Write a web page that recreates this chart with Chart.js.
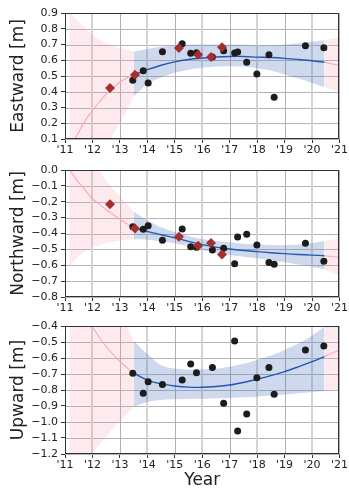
<!DOCTYPE html>
<html>
<head>
<meta charset="utf-8">
<script src="https://cdn.jsdelivr.net/npm/chart.js@4.4.0/dist/chart.umd.min.js"></script>
<style>
  html, body { margin: 0; padding: 0; background: #fff; }
  #wrap { position: relative; width: 349px; height: 491px; }
  .panel { position: absolute; left: 0; width: 349px; }
  canvas { display: block; }
</style>
</head>
<body>
<div id="wrap">
  <div class="panel" style="top:0px"><canvas id="east" width="349" height="160"></canvas></div>
  <div class="panel" style="top:160px"><canvas id="north" width="349" height="155"></canvas></div>
  <div class="panel" style="top:315px"><canvas id="up" width="349" height="176"></canvas></div>
</div>
<script>
// station observations (black dots) and campaign points (red diamonds)
var dotYears = [13.47, 13.85, 14.03, 14.55, 15.27, 15.58, 15.79, 16.37, 16.78, 17.18, 17.29, 17.62, 17.99, 18.43, 18.62, 19.76, 20.43];
var eastDots  = [0.473, 0.534, 0.456, 0.654, 0.705, 0.644, 0.648, 0.62, 0.66, 0.646, 0.652, 0.587, 0.513, 0.635, 0.365, 0.692, 0.68];
var northDots = [-0.357, -0.374, -0.351, -0.443, -0.372, -0.483, -0.487, -0.504, -0.493, -0.59, -0.422, -0.405, -0.472, -0.582, -0.594, -0.462, -0.575];
var upDots    = [-0.696, -0.821, -0.748, -0.765, -0.7375, -0.6375, -0.692, -0.66, -0.883, -0.494, -1.056, -0.95, -0.723, -0.66, -0.827, -0.55, -0.525];

var diamondYears  = [12.64, 13.55, 15.15, 15.85, 16.32, 16.72];
var eastDiamonds  = [0.424, 0.508, 0.678, 0.635, 0.62, 0.682];
var northDiamonds = [-0.216, -0.368, -0.42, -0.477, -0.46, -0.533];

// fitted trend with confidence band over the observed span
var fitYears = [13.5, 14, 14.5, 15, 15.5, 16, 16.5, 17, 17.5, 18, 18.5, 19, 19.5, 20, 20.45];
var eastFit = [0.508, 0.54, 0.568, 0.59, 0.605, 0.614, 0.621, 0.624, 0.624, 0.62, 0.617, 0.612, 0.605, 0.597, 0.587];
var eastHi  = [0.655, 0.672, 0.685, 0.693, 0.698, 0.70, 0.70, 0.70, 0.698, 0.695, 0.695, 0.70, 0.708, 0.718, 0.727];
var eastLo  = [0.37, 0.45, 0.49, 0.52, 0.54, 0.552, 0.56, 0.562, 0.56, 0.55, 0.535, 0.51, 0.485, 0.455, 0.43];
var northFit = [-0.365, -0.387, -0.408, -0.427, -0.45, -0.47, -0.486, -0.498, -0.507, -0.514, -0.521, -0.527, -0.532, -0.536, -0.54];
var northHi  = [-0.262, -0.318, -0.36, -0.389, -0.415, -0.435, -0.447, -0.456, -0.464, -0.47, -0.473, -0.474, -0.47, -0.46, -0.447];
var northLo  = [-0.437, -0.44, -0.45, -0.462, -0.482, -0.504, -0.52, -0.535, -0.546, -0.556, -0.568, -0.581, -0.595, -0.609, -0.626];
var upFit = [-0.695, -0.738, -0.762, -0.775, -0.782, -0.783, -0.778, -0.769, -0.753, -0.733, -0.71, -0.685, -0.655, -0.623, -0.592];
var upHi  = [-0.492, -0.575, -0.645, -0.665, -0.672, -0.671, -0.665, -0.654, -0.636, -0.6125, -0.585, -0.55, -0.51, -0.46, -0.404];
var upLo  = [-0.905, -0.875, -0.862, -0.858, -0.856, -0.855, -0.853, -0.85, -0.846, -0.842, -0.835, -0.828, -0.82, -0.812, -0.806];

// extrapolated trend (pink) before and after the observed span
var extLeftYears = [11.16, 11.37, 11.5, 11.75, 12, 12.25, 12.5, 12.75, 13, 13.25, 13.5];
var eastExtL   = [0.02, 0.10, 0.145, 0.22, 0.28, 0.335, 0.385, 0.425, 0.46, 0.487, 0.508];
var eastExtLHi = [0.91, 0.865, 0.845, 0.80, 0.762, 0.733, 0.71, 0.692, 0.678, 0.666, 0.655];
var eastExtLLo = [-0.6, -0.5, -0.44, -0.33, -0.22, -0.12, 0.04, 0.13, 0.20, 0.28, 0.37];
var northExtL   = [0.005, -0.05, -0.08, -0.13, -0.18, -0.215, -0.25, -0.28, -0.31, -0.338, -0.365];
var northExtLHi = [0.3, 0.25, 0.2, 0.12, 0.05, 0.0, -0.07, -0.12, -0.165, -0.215, -0.262];
var northExtLLo = [-0.61, -0.565, -0.54, -0.51, -0.49, -0.472, -0.46, -0.452, -0.445, -0.44, -0.437];
var upExtL   = [-0.1, -0.19, -0.24, -0.33, -0.405, -0.47, -0.528, -0.578, -0.622, -0.66, -0.695];
var upExtLHi = [0.5, 0.4, 0.35, 0.25, 0.15, 0.05, -0.05, -0.17, -0.29, -0.39, -0.492];
var upExtLLo = [-1.8, -1.6, -1.5, -1.33, -1.2, -1.14, -1.09, -1.04, -0.998, -0.952, -0.905];

var extRightYears = [20.45, 20.7, 21.0];
var eastExtR   = [0.587, 0.578, 0.568];
var eastExtRHi = [0.727, 0.736, 0.745];
var eastExtRLo = [0.43, 0.415, 0.40];
var northExtR   = [-0.54, -0.545, -0.55];
var northExtRHi = [-0.447, -0.44, -0.433];
var northExtRLo = [-0.626, -0.643, -0.661];
var upExtR   = [-0.592, -0.572, -0.55];
var upExtRHi = [-0.404, -0.38, -0.355];
var upExtRLo = [-0.806, -0.803, -0.80];

var FONT = 'DejaVu Sans';
var BLUE = '#2456b3';
var BLUE_BAND = 'rgba(76, 114, 190, 0.27)';
var PINK = '#f7a9b8';
var PINK_BAND = 'rgba(245, 150, 172, 0.2)';

function pts(xs, ys) {
  return xs.map(function (x, i) { return { x: x, y: ys[i] }; });
}

function fmt(v) {
  return v.toFixed(1).replace('-', '\u2212');
}

// grid under the data, frame round the plot area
var framePlugin = {
  id: 'frame',
  beforeDatasetsDraw: function (chart) {
    var a = chart.chartArea, c = chart.ctx;
    var xs = chart.scales.x, ys = chart.scales.y;
    c.save();
    ys.ticks.forEach(function (t) {
      var y = Math.round(ys.getPixelForValue(t.value)) + 0.5;
      c.strokeStyle = '#b5b5b5';
      c.lineWidth = 1;
      c.beginPath(); c.moveTo(a.left, y); c.lineTo(a.right, y); c.stroke();
    });
    xs.ticks.forEach(function (t) {
      var even = t.value % 2 === 0;
      var x = Math.round(xs.getPixelForValue(t.value)) + (even ? 0 : 0.5);
      c.strokeStyle = even ? '#d4d4d4' : '#b0b0b0';
      c.lineWidth = even ? 2 : 1;
      c.beginPath(); c.moveTo(x, a.top); c.lineTo(x, a.bottom); c.stroke();
    });
    c.restore();
  },
  afterDatasetsDraw: function (chart) {
    var a = chart.chartArea, c = chart.ctx;
    c.save();
    c.strokeStyle = '#333';
    c.lineWidth = 1;
    c.strokeRect(Math.round(a.left) + 0.5, Math.round(a.top) + 0.5, Math.round(a.right - a.left) - 1, Math.round(a.bottom - a.top) - 1);
    c.restore();
  }
};

function band(hi, lo, xs, color, order) {
  return [
    { data: pts(xs, hi), borderWidth: 0, pointRadius: 0, tension: 0.35, fill: '+1', backgroundColor: color, order: order },
    { data: pts(xs, lo), borderWidth: 0, pointRadius: 0, tension: 0.35, fill: false, order: order }
  ];
}

function makePanel(id, p) {
  var ds = [];
  if (p.diamonds) {
    ds.push({ data: pts(diamondYears, p.diamonds), showLine: false, pointStyle: 'rectRot', pointRadius: 5,
      backgroundColor: '#a3302c', borderColor: '#a3302c', borderWidth: 0, order: 0 });
  }
  ds.push({ data: pts(dotYears, p.dots), showLine: false, pointStyle: 'circle', pointRadius: 3.5,
    backgroundColor: '#1c1c1c', borderColor: '#1c1c1c', borderWidth: 0, order: 1 });
  ds.push({ data: pts(fitYears, p.fit), borderColor: BLUE, borderWidth: 1.4, pointRadius: 0, tension: 0.35, fill: false, order: 2 });
  ds.push({ data: pts(extLeftYears, p.extL), borderColor: PINK, borderWidth: 1.1, pointRadius: 0, tension: 0.35, fill: false, order: 3 });
  ds.push({ data: pts(extRightYears, p.extR), borderColor: PINK, borderWidth: 1.1, pointRadius: 0, tension: 0.35, fill: false, order: 3 });
  ds = ds.concat(band(p.hi, p.lo, fitYears, BLUE_BAND, 4));
  ds = ds.concat(band(p.extLHi, p.extLLo, extLeftYears, PINK_BAND, 5));
  ds = ds.concat(band(p.extRHi, p.extRLo, extRightYears, PINK_BAND, 5));

  return new Chart(document.getElementById(id), {
    type: 'line',
    data: { datasets: ds },
    options: {
      responsive: false,
      animation: false,
      layout: { padding: { left: 0, right: 9, top: p.top, bottom: 0 } },
      plugins: { legend: { display: false }, tooltip: { enabled: false } },
      scales: {
        x: {
          type: 'linear', min: 11, max: 21,
          ticks: { stepSize: 1, autoSkip: false, maxRotation: 0, padding: 1, color: '#222', font: { family: FONT, size: 11 },
            callback: function (v) { return "'" + v; } },
          grid: { drawOnChartArea: false, color: '#333', tickColor: '#333', tickLength: 4, tickWidth: 1 },
          border: { display: true, color: '#333', width: 1 },
          title: { display: !!p.xTitle, text: p.xTitle || '', color: '#222', font: { family: FONT, size: 17 }, padding: { top: 0, bottom: 0 } },
          afterFit: function (s) { s.height = p.xh; }
        },
        y: {
          min: p.min, max: p.max,
          ticks: { stepSize: 0.1, autoSkip: false, padding: 3, color: '#222', font: { family: FONT, size: 11 }, callback: fmt },
          grid: { drawOnChartArea: false, color: '#333', tickColor: '#333', tickLength: 4, tickWidth: 1 },
          border: { display: true, color: '#333', width: 1 },
          title: { display: true, text: p.yTitle, color: '#222', font: { family: FONT, size: 17 }, padding: { top: 8, bottom: 0 } },
          afterFit: function (s) { s.width = 65; }
        }
      }
    },
    plugins: [framePlugin]
  });
}

makePanel('east', {
  top: 13, xh: 21, min: 0.1, max: 0.9, yTitle: 'Eastward [m]',
  dots: eastDots, diamonds: eastDiamonds, fit: eastFit, hi: eastHi, lo: eastLo,
  extL: eastExtL, extLHi: eastExtLHi, extLLo: eastExtLLo,
  extR: eastExtR, extRHi: eastExtRHi, extRLo: eastExtRLo
});

makePanel('north', {
  top: 10, xh: 18, min: -0.8, max: 0.0, yTitle: 'Northward [m]',
  dots: northDots, diamonds: northDiamonds, fit: northFit, hi: northHi, lo: northLo,
  extL: northExtL, extLHi: northExtLHi, extLLo: northExtLLo,
  extR: northExtR, extRHi: northExtRHi, extRLo: northExtRLo
});

makePanel('up', {
  top: 11, xh: 37, min: -1.2, max: -0.4, yTitle: 'Upward [m]', xTitle: 'Year',
  dots: upDots, fit: upFit, hi: upHi, lo: upLo,
  extL: upExtL, extLHi: upExtLHi, extLLo: upExtLLo,
  extR: upExtR, extRHi: upExtRHi, extRLo: upExtRLo
});
</script>
</body>
</html>
